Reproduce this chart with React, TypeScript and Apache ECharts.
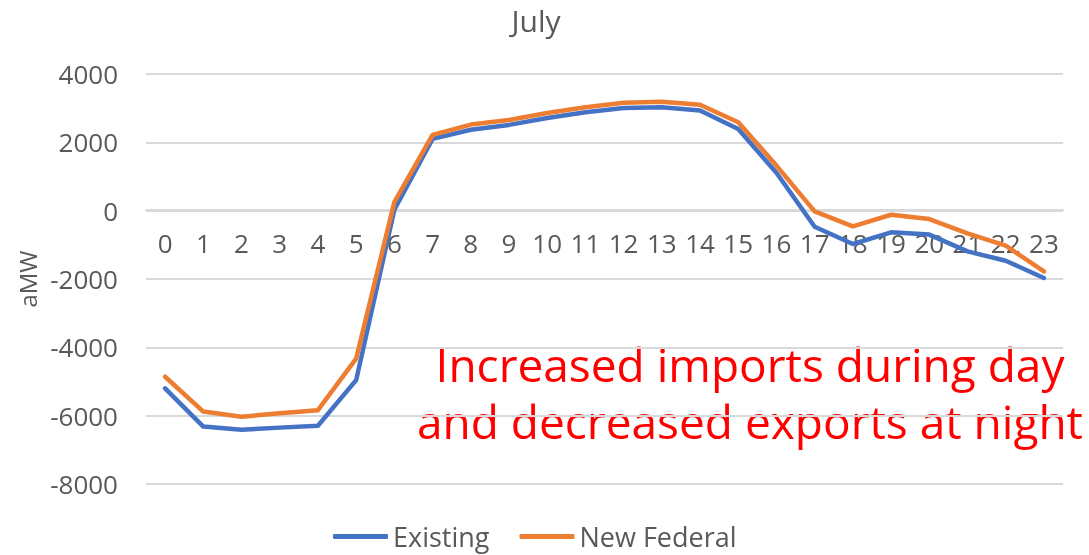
import React, { useEffect, useRef } from "react";
import * as echarts from "echarts";

const hours = ["0","1","2","3","4","5","6","7","8","9","10","11","12","13","14","15","16","17","18","19","20","21","22","23"];
const existing = [-5200, -6320, -6410, -6350, -6295, -4960, 30, 2100, 2370, 2510, 2710, 2880, 3005, 3030, 2930, 2390, 1110, -470, -975, -635, -700, -1190, -1465, -1970];
const newFederal = [-4860, -5880, -6030, -5930, -5840, -4330, 250, 2220, 2520, 2655, 2860, 3025, 3160, 3190, 3100, 2590, 1320, -20, -460, -120, -245, -665, -1025, -1780];
const yTicks = { min: -8000, max: 4000, interval: 2000 };

const FONT = "'Open Sans', sans-serif";

export default function App() {
  const ref = useRef<HTMLDivElement>(null);
  useEffect(() => {
    const chart = echarts.init(ref.current!, null, { renderer: "svg" });
    chart.setOption({
      animation: false,
      title: {
        text: "July",
        left: 531,
        top: 0,
        textAlign: "center",
        textStyle: { fontFamily: FONT, fontSize: 30, fontWeight: "normal", color: "#595959" },
      },
      grid: { left: 146, right: 26, top: 74, bottom: 71 },
      legend: {
        bottom: 0,
        left: 328,
        itemWidth: 55,
        itemHeight: 5,
        itemGap: 30,
        icon: "roundRect",
        textStyle: { fontFamily: FONT, fontSize: 27, color: "#595959" },
        data: ["Existing", "New Federal"],
      },
      xAxis: [
        {
          type: "category",
          data: hours,
          boundaryGap: true,
          axisLine: { show: false },
          axisTick: { show: false },
          axisLabel: { show: false },
        },
        {
          type: "category",
          data: hours,
          boundaryGap: true,
          position: "top",
          offset: -136,
          axisLine: { show: true, lineStyle: { color: "#d9d9d9", width: 2 } },
          axisTick: { show: false },
          axisLabel: { inside: true, fontFamily: FONT, fontSize: 26, color: "#595959", margin: 20, interval: 0 },
        },
      ],
      yAxis: {
        type: "value",
        min: yTicks.min,
        max: yTicks.max,
        interval: yTicks.interval,
        name: "aMW",
        nameLocation: "middle",
        nameGap: 106,
        nameTextStyle: { fontFamily: FONT, fontSize: 24, color: "#595959" },
        axisLine: { show: false },
        axisTick: { show: false },
        splitLine: { lineStyle: { color: "#d9d9d9", width: 2 } },
        axisLabel: { fontFamily: FONT, fontSize: 26, color: "#595959", margin: 28, formatter: (v: number) => String(v) },
      },
      series: [
        {
          name: "Existing",
          type: "line",
          xAxisIndex: 0,
          data: existing,
          symbol: "none",
          lineStyle: { color: "#4472C4", width: 4.5, cap: "round", join: "round" },
          itemStyle: { color: "#4472C4" },
        },
        {
          name: "New Federal",
          type: "line",
          xAxisIndex: 0,
          data: newFederal,
          symbol: "none",
          lineStyle: { color: "#ED7D31", width: 4.5, cap: "round", join: "round" },
          itemStyle: { color: "#ED7D31" },
        },
      ],
      graphic: [
        {
          type: "text",
          x: 750,
          y: 335,
          style: {
            text: "Increased imports during day\nand decreased exports at night",
            fill: "#ff0000",
            fontFamily: FONT,
            fontSize: 46,
            lineHeight: 57,
            align: "center",
            verticalAlign: "top",
          },
        },
      ],
    });
    return () => chart.dispose();
  }, []);
  return <div ref={ref} style={{ position: "fixed", left: 0, top: 0, width: 1089, height: 555 }} />;
}
